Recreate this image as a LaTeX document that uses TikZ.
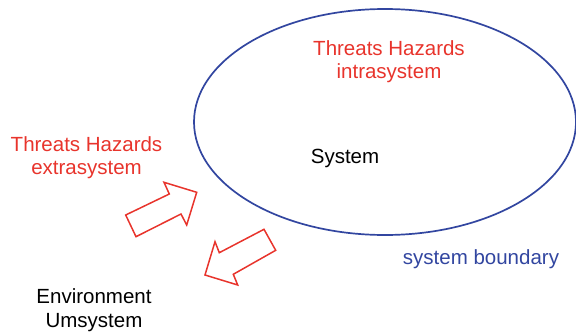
\documentclass[tikz,border=0pt]{standalone}
\usepackage{fontspec}
\setmainfont{Liberation Sans}
\usetikzlibrary{shapes.geometric}
\definecolor{thred}{RGB}{232,52,44}
\definecolor{bndblue}{RGB}{50,70,160}
\begin{document}
\begin{tikzpicture}[x=1pt,y=-1pt,
  lbl/.style={inner sep=0pt, align=center, font=\fontsize{20.5}{23.5}\selectfont, anchor=base},
  redlbl/.style={lbl, text=thred},
  bigarrow/.style={draw=thred, line width=1.5pt, line join=miter}]
\useasboundingbox (0,0) rectangle (576,332);
\node[draw=bndblue, line width=1.7pt, ellipse, minimum width=382pt, minimum height=226pt, inner sep=0pt] (sys) at (385,122) {};
\node[redlbl] (intra) at (389,78.5) {Threats Hazards\\intrasystem};
\node[lbl] (system) at (345,163.3) {System};
\node[redlbl] (extra) at (86.5,174.5) {Threats Hazards\\extrasystem};
\node[lbl, text=bndblue] (bnd) at (481,264.3) {system boundary};
\node[lbl] (env) at (94,327) {Environment\\Umsystem};
\draw[bigarrow] (125.7,215) -- (169.3,194) -- (164,182.3) -- (196.7,192.3) -- (186.7,225) -- (181,214) -- (136,236.7) -- cycle;
\draw[bigarrow] (264,229.3) -- (275.7,250.3) -- (233.3,274.3) -- (237.7,285) -- (205,275) -- (215,241.7) -- (219.3,252.7) -- cycle;
\end{tikzpicture}
\end{document}
